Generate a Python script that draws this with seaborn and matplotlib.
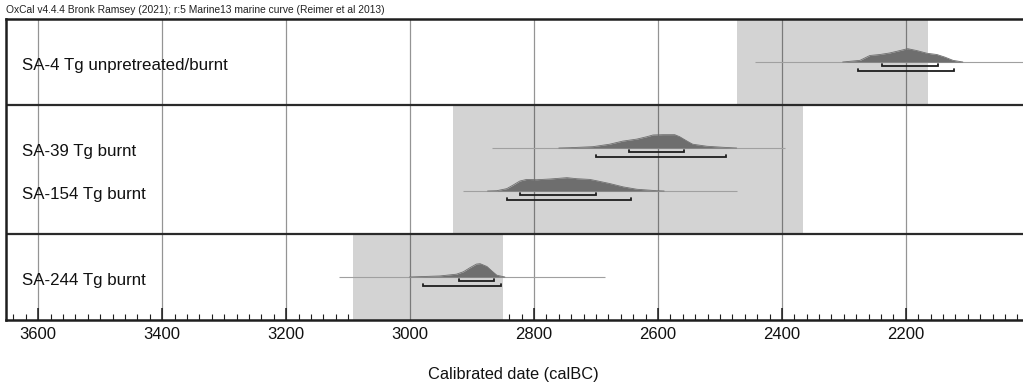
import numpy as np
import pandas as pd
import matplotlib
matplotlib.use("Agg")
import matplotlib.pyplot as plt
import seaborn as sns

# OxCal multiplot: Tg samples, calibrated with Marine13

samples = ["SA-4 Tg unpretreated/burnt", "SA-39 Tg burnt", "SA-154 Tg burnt", "SA-244 Tg burnt"]
rows = [1, 3, 4, 6]  # row of each sample in the plot (7 rows total)

# probability shapes (calBC, relative height)
sa4_years = [2302, 2274, 2258, 2242, 2226, 2210, 2197, 2182, 2166, 2150, 2137, 2124, 2108]
sa4_prob = [0, 1.7, 6.7, 7.7, 9.3, 11.7, 13.7, 11.7, 9.0, 7.7, 5.0, 1.7, 0]

sa39_years = [2760, 2742, 2705, 2678, 2657, 2634, 2618, 2608, 2592, 2573, 2565, 2553, 2544, 2521, 2495, 2473]
sa39_prob = [0, 0.3, 1.3, 3.7, 6.7, 8.7, 11.0, 12.7, 13.0, 13.0, 11.0, 6.7, 3.7, 1.7, 0.7, 0]

sa154_years = [2875, 2860, 2844, 2834, 2823, 2812, 2796, 2774, 2747, 2731, 2710, 2699, 2678, 2656, 2634, 2602, 2590]
sa154_prob = [0, 0.3, 2.3, 5.7, 9.7, 11.3, 11.0, 11.7, 13.0, 12.0, 11.3, 10.0, 7.3, 4.0, 1.7, 0.3, 0]

sa244_years = [3001, 2952, 2925, 2914, 2903, 2893, 2887, 2876, 2868, 2860, 2847]
sa244_prob = [0, 1.0, 2.7, 5.0, 9.0, 12.3, 12.7, 10.0, 5.7, 1.7, 0]

# 68.2% and 95.4% ranges (from, to)
range68 = [(2238, 2148), (2647, 2558), (2822, 2700), (2921, 2865)]
range95 = [(2278, 2123), (2700, 2491), (2844, 2644), (2979, 2853)]

# extent of the unmodelled (thin) line
prior_range = [(2444, 1990), (2868, 2395), (2915, 2473), (3115, 2686)]

# phase boxes: start, end, first row, last row
phase_start = [2472, 2931, 3092]
phase_end = [2165, 2366, 2850]
phase_rows = [(0, 2), (2, 5), (5, 7)]

major_ticks = [3600, 3400, 3200, 3000, 2800, 2600, 2400, 2200]

sns.set_theme(style="white")
plt.rcParams['font.family'] = ['Liberation Sans', 'DejaVu Sans']

fig = plt.figure(figsize=(10.23, 3.91), dpi=100)
ax = fig.add_axes([6 / 1023, 1 - 320 / 391, 1017 / 1023, 301 / 391])
ax.set_xlim(3652, 2011)
ax.set_ylim(7, 0)

# phase boxes
for s, e, (r0, r1) in zip(phase_start, phase_end, phase_rows):
    ax.fill_betweenx([r0, r1], s, e, color='#d3d3d3', lw=0, zorder=1)

# grid
for t in major_ticks:
    ax.axvline(t, color='black', alpha=0.42, lw=0.9, zorder=2)

# panel separators
for r in [2, 5]:
    ax.axhline(r, color='#2a2a2a', lw=1.6, zorder=5)

peak_h = 0.31
dist = [(sa4_years, sa4_prob), (sa39_years, sa39_prob), (sa154_years, sa154_prob), (sa244_years, sa244_prob)]
for i, (yrs, prob) in enumerate(dist):
    base = rows[i]
    p = np.array(prob) / max(prob)
    top = base - p * peak_h
    ax.hlines(base, prior_range[i][0], prior_range[i][1], color='#a0a0a0', lw=0.8, zorder=3)
    ax.fill_between(yrs, base, top, color='#6e6e6e', lw=0, zorder=4)
    df = pd.DataFrame({'year': yrs, 'h': top})
    sns.lineplot(data=df, x='year', y='h', ax=ax, color='#6e6e6e', lw=0.6, zorder=4)

    # ranges with bracket ends
    for (a, b), off in [(range68[i], 0.1), (range95[i], 0.22)]:
        y = base + off
        ax.plot([a, a, b, b], [y - 0.06, y, y, y - 0.06], color='#1e1e1e', lw=1.3,
                solid_joinstyle='miter', zorder=6)

    ax.text(0.0157, base + 0.18, samples[i], transform=ax.get_yaxis_transform(),
            fontsize=12.2, va='baseline', ha='left', color='#111111', zorder=7)

ax.set_xlabel('')
ax.set_ylabel('')
ax.set_yticks([])
ax.set_xticks(major_ticks)
ax.set_xticklabels([str(t) for t in major_ticks], fontsize=12)
ax.set_xticks(np.arange(2020, 3660, 20), minor=True)
ax.tick_params(axis='x', which='major', direction='in', length=8.6, width=1.1,
               color='#1e1e1e', pad=4.8, labelcolor='#111111', bottom=True)
ax.tick_params(axis='x', which='minor', direction='in', length=4.3, width=0.8,
               color='#1e1e1e', bottom=True)

for side in ['left', 'top', 'bottom']:
    ax.spines[side].set_color('#1e1e1e')
    ax.spines[side].set_linewidth(1.8)
    ax.spines[side].set_zorder(8)
ax.spines['right'].set_visible(False)

fig.text(6 / 1023, 1 - 10 / 391,
         'OxCal v4.4.4 Bronk Ramsey (2021); r:5 Marine13 marine curve (Reimer et al 2013)',
         fontsize=7.4, va='center', ha='left', color='#222222')
fig.text(513 / 1023, 1 - 374 / 391, 'Calibrated date (calBC)', fontsize=11.8,
         ha='center', va='center', color='#111111')

fig.savefig('out.png', dpi=100)
